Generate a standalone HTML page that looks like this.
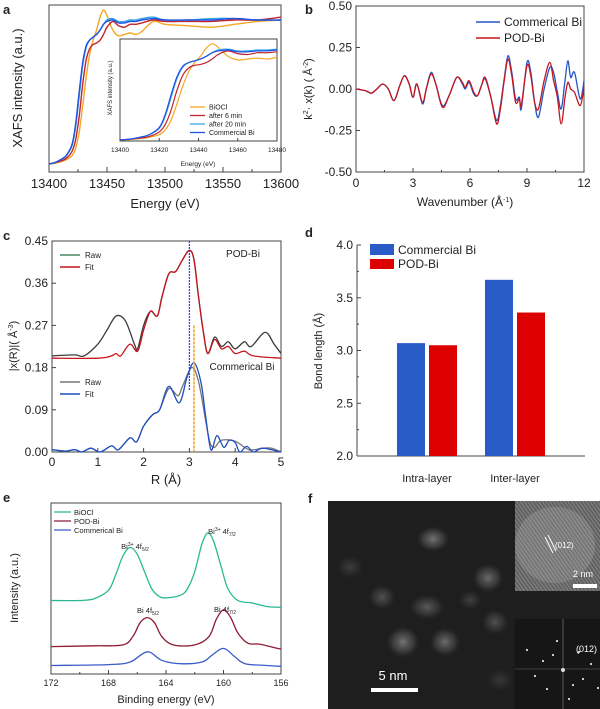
<!DOCTYPE html>
<html><head><meta charset="utf-8"><style>
body{margin:0;background:#fff;}
svg{display:block;font-family:"Liberation Sans",Arial,sans-serif;}
</style></head><body>
<svg id="fig" width="600" height="709" viewBox="0 0 600 709"></svg>
<script>
// ---------- Panel a data ----------
const aEnergy=[13400,13405,13410,13415,13420,13423,13426,13429,13432,13435,13438,13441,13444,13447,13450,13455,13460,13465,13470,13475,13480,13490,13500,13520,13540,13560,13580,13600];
const aCommercial=[0,0.01,0.03,0.06,0.14,0.28,0.50,0.70,0.82,0.86,0.88,0.90,0.93,0.97,0.99,1.00,0.98,0.98,0.99,0.99,1.00,1.01,1.00,1.00,1.00,1.01,1.00,1.00];
const a20min=[0,0.01,0.03,0.06,0.13,0.26,0.47,0.68,0.81,0.86,0.88,0.90,0.93,0.97,1.00,1.01,0.99,0.99,1.00,1.00,1.01,1.02,1.00,1.00,1.01,1.01,1.00,1.00];
const a6min=[0,0.01,0.02,0.04,0.09,0.17,0.33,0.55,0.72,0.80,0.83,0.84,0.86,0.90,0.95,0.99,0.96,0.95,0.97,0.97,0.98,1.00,0.99,0.99,0.99,1.00,1.00,1.02];
const aBiOCl=[0,0.005,0.015,0.03,0.06,0.11,0.22,0.40,0.60,0.76,0.86,0.93,1.02,1.07,1.03,0.93,0.89,0.90,0.91,0.90,0.92,0.99,0.97,0.96,0.95,0.97,0.99,1.00];
const aTicks=[13400,13450,13500,13550,13600];
const aInsetTicks=[13400,13420,13440,13460,13480];
// ---------- Panel b data ----------
const bK=[0,0.5,0.8,1.1,1.4,1.7,2.0,2.3,2.55,2.8,3.0,3.2,3.5,3.7,3.95,4.2,4.55,4.9,5.3,5.6,5.75,5.95,6.2,6.4,6.6,6.8,7.1,7.4,7.6,7.8,8.0,8.2,8.4,8.6,8.7,9.0,9.2,9.4,9.6,9.9,10.2,10.4,10.6,10.8,11.0,11.15,11.3,11.5,11.8,12];
const bPOD=[0,-0.01,-0.025,0,0.03,0,-0.07,0.02,0.08,0.03,-0.05,0.03,-0.08,0,0.09,0.03,-0.11,-0.04,0.07,0.04,0.01,0.05,-0.02,-0.04,0.02,0.07,-0.05,-0.21,-0.12,0.05,0.18,0.08,-0.08,-0.06,-0.1,0.14,0.08,-0.08,-0.12,0.05,0.16,0.05,-0.05,-0.21,-0.05,0.04,0.0,-0.02,-0.1,0.01];
const bCommercial=[0,-0.01,-0.025,0,0.03,0,-0.07,0.02,0.08,0.03,-0.05,0.03,-0.09,0,0.1,0.03,-0.1,-0.04,0.07,0.03,0.0,0.04,-0.03,-0.04,0.02,0.06,-0.05,-0.19,-0.1,0.06,0.2,0.1,-0.06,-0.05,-0.12,0.16,0.1,-0.08,-0.17,0.0,0.13,0.1,-0.02,-0.12,0.05,0.17,0.07,0.1,-0.06,0.05];
const bYTicks=[0.5,0.25,0,-0.25,-0.5];
const bYLabels=["0.50","0.25","0.00","-0.25","-0.50"];
const bXTicks=[0,3,6,9,12];
// ---------- Panel c data ----------
const cRpodRaw=[0,0.5,0.7,1.0,1.2,1.4,1.6,1.8,1.87,2.0,2.15,2.3,2.4,2.55,2.7,2.85,3.0,3.1,3.2,3.3,3.4,3.55,3.7,3.85,4.0,4.2,4.35,4.65,4.85,5];
const cPodRaw=[0.205,0.207,0.205,0.23,0.26,0.29,0.28,0.23,0.22,0.27,0.30,0.29,0.33,0.38,0.385,0.41,0.43,0.41,0.33,0.26,0.21,0.245,0.225,0.235,0.22,0.235,0.225,0.255,0.23,0.21];
const cRpodFit=[0,1.0,1.3,1.4,1.5,1.7,1.87,2.0,2.15,2.3,2.4,2.55,2.7,2.85,3.0,3.1,3.2,3.3,3.4,3.55,3.7,3.85,4.0,4.2,4.4,5];
const cPodFit=[0.2,0.2,0.205,0.21,0.205,0.23,0.215,0.26,0.30,0.29,0.33,0.38,0.385,0.41,0.43,0.41,0.33,0.26,0.21,0.24,0.22,0.225,0.21,0.215,0.205,0.2];
const cRcomRaw=[0,0.3,0.5,0.65,0.85,1.05,1.3,1.45,1.7,1.85,2.0,2.2,2.35,2.55,2.75,2.85,3.05,3.2,3.35,3.45,3.55,3.7,4.0,4.3,4.6,4.8,5];
const cComRaw=[0.005,0.002,0.005,0,0.008,0,0.013,0.005,0.03,0.022,0.055,0.08,0.09,0.135,0.12,0.14,0.18,0.15,0.07,0.02,0.01,0.025,0.023,0.005,0.008,0.008,0];
const cRcomFit=[0,0.3,0.5,0.65,0.85,1.05,1.3,1.45,1.7,1.85,2.0,2.2,2.35,2.55,2.78,2.95,3.1,3.25,3.35,3.47,3.6,3.75,3.87,4.0,4.1,4.25,4.4,4.6,5];
const cComFit=[0.005,0.002,0.005,0,0.008,0,0.013,0.005,0.03,0.022,0.055,0.08,0.09,0.14,0.105,0.16,0.19,0.15,0.08,0.005,0.035,0.01,0.025,0.02,0,0.012,0,0.008,0];
const cYTicks=[0.45,0.36,0.27,0.18,0.09,0];
const cYLabels=["0.45","0.36","0.27","0.18","0.09","0.00"];
const cXTicks=[0,1,2,3,4,5];
// ---------- Panel d data ----------
const dCategories=["Intra-layer","Inter-layer"];
const dCommercial=[3.07,3.67];
const dPOD=[3.05,3.36];
const dYTicks=[2.0,2.5,3.0,3.5,4.0];
const dYLabels=["2.0","2.5","3.0","3.5","4.0"];
// ---------- Panel e data ----------
const eBE_BiOCl=[172,170,169,168,167.5,167,166.5,166,165.5,165,164.5,164,163,162.5,162,161.5,161.1,160.7,160.2,159.7,159,158,157,156];
const eBiOCl=[4.3,4.3,4.4,4.9,5.8,6.9,7.4,7.0,6.0,5.0,4.55,4.45,4.6,5.0,6.0,7.6,8.25,7.8,6.4,5.0,4.3,4.15,3.95,3.9];
const eBE_POD=[172,169,167,166.3,165.8,165.3,164.8,164.3,163.5,162,161,160.5,160,159.5,159,158.3,157.5,156.5,156];
const ePOD=[1.6,1.65,1.7,2.2,3.0,3.3,3.0,2.2,1.7,1.7,2.2,3.2,3.75,3.3,2.4,1.8,1.75,1.55,1.45];
const eBE_Com=[172,168,166.5,165.3,164.3,163,161.5,160.8,160,159.2,158.5,157,156];
const eCom=[0.5,0.55,0.7,1.3,0.8,0.6,0.7,1.1,1.5,1.0,0.6,0.5,0.45];
const eXTicks=[172,168,164,160,156];

const NS="http://www.w3.org/2000/svg";
const svg=document.getElementById('fig');
function mk(tag,attrs,parent){const e=document.createElementNS(NS,tag);for(const k in attrs)e.setAttribute(k,attrs[k]);(parent||svg).appendChild(e);return e;}
function txt(s,x,y,size,anchor,parent,extra){const t=mk('text',Object.assign({x:x,y:y,'font-size':size,'text-anchor':anchor||'start',fill:'#222'},extra||{}),parent);t.textContent=s;return t;}
function lin(d0,d1,r0,r1){return v=>r0+(v-d0)*(r1-r0)/(d1-d0);}
function smooth(pts){let d='M'+pts[0][0].toFixed(1)+','+pts[0][1].toFixed(1);for(let i=0;i<pts.length-1;i++){const p0=pts[i-1]||pts[i],p1=pts[i],p2=pts[i+1],p3=pts[i+2]||p2;const c1=[p1[0]+(p2[0]-p0[0])/6,p1[1]+(p2[1]-p0[1])/6],c2=[p2[0]-(p3[0]-p1[0])/6,p2[1]-(p3[1]-p1[1])/6];d+='C'+c1[0].toFixed(1)+','+c1[1].toFixed(1)+' '+c2[0].toFixed(1)+','+c2[1].toFixed(1)+' '+p2[0].toFixed(1)+','+p2[1].toFixed(1);}return d;}
function series(xs,ys,sx,sy,color,w,parent,name,clip){const p=mk('path',{d:smooth(xs.map((x,i)=>[sx(x),sy(ys[i])])),fill:'none',stroke:color,'stroke-width':w,'stroke-linejoin':'round'},parent);


if(clip)p.setAttribute('clip-path',clip);return p;}
function grp(name){const g=mk('g',{});return g;}
function box(x0,y0,x1,y1,parent){mk('rect',{x:x0,y:y0,width:x1-x0,height:y1-y0,fill:'none',stroke:'#444','stroke-width':1},parent);}
const defs=mk('defs',{});
function clipRect(id,x,y,w,h){const c=mk('clipPath',{id:id},defs);mk('rect',{x:x,y:y,width:w,height:h},c);return 'url(#'+id+')';}

// ===== Panel a =====
(function(){
const g=grp('panel-a');
txt('a',3,14,13,'start',g,{'font-weight':'bold'});
const sx=lin(13400,13600,49,281), sy=lin(0,1,164,20);
box(49,5,281,172,g);
const clip=clipRect('ca',49,5,232,167);
aTicks.forEach(t=>{mk('line',{x1:sx(t),x2:sx(t),y1:172,y2:167,stroke:'#444'},g);txt(String(t),sx(t),188,13,'middle',g);});
for(let t=13425;t<13600;t+=50)mk('line',{x1:sx(t),x2:sx(t),y1:172,y2:169,stroke:'#444'},g);
txt('Energy (eV)',165,208,13,'middle',g);
txt('XAFS intensity (a.u.)',0,0,13,'middle',g,{transform:'translate(22,88) rotate(-90)'});
series(aEnergy,aBiOCl,sx,sy,'#f5a623',1.4,g,'a-biocl-line',clip);
series(aEnergy,a6min,sx,sy,'#c0242c',1.4,g,'a-6min-line',clip);
series(aEnergy,a20min,sx,sy,'#3aa8e8',1.4,g,'a-20min-line',clip);
series(aEnergy,aCommercial,sx,sy,'#2050e0',1.4,g,'a-commercial-line',clip);
const ig=mk('g',{},g);
mk('rect',{x:120,y:39,width:157,height:102,fill:'#fff'},ig);
box(120,39,277,141,ig);
const ix=lin(13400,13480,120,277), iy=lin(0,1,140,50);
const ic=clipRect('cai',120,39,157,102);
aInsetTicks.forEach(t=>{mk('line',{x1:ix(t),x2:ix(t),y1:141,y2:138,stroke:'#444'},ig);txt(String(t),ix(t),152,6.5,'middle',ig);});
txt('Energy (eV)',198,166,6.5,'middle',ig);
txt('XAFS intensity (a.u.)',0,0,6,'middle',ig,{transform:'translate(112,88) rotate(-90)'});
series(aEnergy,aBiOCl,ix,iy,'#f5a623',1.2,ig,'inset-biocl-line',ic);
series(aEnergy,a6min,ix,iy,'#c0242c',1.2,ig,'inset-6min-line',ic);
series(aEnergy,a20min,ix,iy,'#3aa8e8',1.2,ig,'inset-20min-line',ic);
series(aEnergy,aCommercial,ix,iy,'#2050e0',1.2,ig,'inset-commercial-line',ic);
const leg=[['BiOCl','#f5a623'],['after 6 min','#c0242c'],['after 20 min','#3aa8e8'],['Commercial Bi','#2050e0']];
leg.forEach((l,i)=>{const y=107+i*8.5;mk('line',{x1:190,x2:205,y1:y,y2:y,stroke:l[1],'stroke-width':1.3},ig);txt(l[0],209,y+2.5,7,'start',ig);});
})();

// ===== Panel b =====
(function(){
const g=grp('panel-b');
txt('b',305,14,13,'start',g,{'font-weight':'bold'});
const sx=lin(0,12,356,584), sy=lin(-0.5,0.5,172,6);
box(356,6,584,172,g);
bYTicks.forEach((t,i)=>{mk('line',{x1:356,x2:360,y1:sy(t),y2:sy(t),stroke:'#444'},g);txt(bYLabels[i],352,sy(t)+4,12,'end',g);});
bXTicks.forEach(t=>{mk('line',{x1:sx(t),x2:sx(t),y1:172,y2:168,stroke:'#444'},g);txt(String(t),sx(t),187,12,'middle',g);});
for(let t=1.5;t<12;t+=3)mk('line',{x1:sx(t),x2:sx(t),y1:172,y2:170,stroke:'#444'},g);
const xl=txt('Wavenumber (Å',465,206,12,'middle',g);
const ts=mk('tspan',{dy:-4,'font-size':7},xl);ts.textContent='-1';const ts2=mk('tspan',{dy:4},xl);ts2.textContent=')';
const yl=mk('text',{'font-size':11,'text-anchor':'middle',fill:'#222',transform:'translate(312,89) rotate(-90)'},g);
yl.textContent='k';const s1=mk('tspan',{dy:-4,'font-size':7},yl);s1.textContent='2';const s2=mk('tspan',{dy:4},yl);s2.textContent='· x(k) ( Å';const s3=mk('tspan',{dy:-4,'font-size':7},yl);s3.textContent='-2';const s4=mk('tspan',{dy:4},yl);s4.textContent=')';
series(bK,bCommercial,sx,sy,'#2555c8',1.3,g,'b-commercial-line');
series(bK,bPOD,sx,sy,'#c4161c',1.3,g,'b-pod-line');
[['Commerical Bi','#2555c8',22],['POD-Bi','#c4161c',38]].forEach(l=>{mk('line',{x1:476,x2:500,y1:l[2],y2:l[2],stroke:l[1],'stroke-width':1.5},g);txt(l[0],504,l[2]+4,12,'start',g);});
})();

// ===== Panel c =====
(function(){
const g=grp('panel-c');
txt('c',3,240,13,'start',g,{'font-weight':'bold'});
const sx=lin(0,5,52,281), sy=lin(0,0.45,452,241);
box(52,241,281,452,g);
cYTicks.forEach((t,i)=>{mk('line',{x1:52,x2:56,y1:sy(t),y2:sy(t),stroke:'#444'},g);txt(cYLabels[i],48,sy(t)+4,12,'end',g);});
cXTicks.forEach(t=>{mk('line',{x1:sx(t),x2:sx(t),y1:452,y2:448,stroke:'#444'},g);txt(String(t),sx(t),466,12,'middle',g);});
txt('R (Å)',166,484,13,'middle',g);
const yl=mk('text',{'font-size':11,'text-anchor':'middle',fill:'#222',transform:'translate(17,346) rotate(-90)'},g);
yl.textContent='|x(R)|( Å';const s=mk('tspan',{dy:-4,'font-size':7},yl);s.textContent='-3';const s2=mk('tspan',{dy:4},yl);s2.textContent=')';
series(cRpodRaw,cPodRaw,sx,sy,'#3c3c3c',1.3,g,'c-pod-raw-line');
series(cRpodFit,cPodFit,sx,sy,'#c4161c',1.3,g,'c-pod-fit-line');
series(cRcomRaw,cComRaw,sx,sy,'#777',1.3,g,'c-commercial-raw-line');
series(cRcomFit,cComFit,sx,sy,'#1f4fc0',1.3,g,'c-commercial-fit-line');
const v1=mk('line',{x1:sx(3.0),x2:sx(3.0),y1:sy(0.45),y2:sy(0.13),stroke:'#3344ee','stroke-width':1.3,'stroke-dasharray':'2,1'},g);
const v2=mk('line',{x1:sx(3.1),x2:sx(3.1),y1:sy(0.27),y2:sy(0),stroke:'#f0a020','stroke-width':1.5,'stroke-dasharray':'3,1'},g);
txt('POD-Bi',243,257,10,'middle',g);
txt('Commerical Bi',242,370,10,'middle',g);
[['Raw','#4a8a64',255],['Fit','#c4161c',267]].forEach(l=>{mk('line',{x1:60,x2:80,y1:l[2],y2:l[2],stroke:l[1],'stroke-width':1.5},g);txt(l[0],85,l[2]+3,8,'start',g);});
[['Raw','#777',382],['Fit','#1f4fc0',394]].forEach(l=>{mk('line',{x1:60,x2:80,y1:l[2],y2:l[2],stroke:l[1],'stroke-width':1.5},g);txt(l[0],85,l[2]+3,8,'start',g);});
})();

// ===== Panel d =====
(function(){
const g=grp('panel-d');
txt('d',305,237,13,'start',g,{'font-weight':'bold'});
const sy=lin(2,4,456,245);
const catX=[427,515], bw=28, gap=4;
mk('line',{x1:357,x2:357,y1:245,y2:456,stroke:'#444'},g);
mk('line',{x1:357,x2:585,y1:456,y2:456,stroke:'#444'},g);
dYTicks.forEach((t,i)=>{mk('line',{x1:357,x2:361,y1:sy(t),y2:sy(t),stroke:'#444'},g);txt(dYLabels[i],353,sy(t)+4,12,'end',g);});
for(let t=2.25;t<4;t+=0.5)mk('line',{x1:357,x2:359,y1:sy(t),y2:sy(t),stroke:'#444'},g);
txt('Bond length (Å)',0,0,11,'middle',g,{transform:'translate(322,351) rotate(-90)'});
dCategories.forEach((c,i)=>{
 const b1=mk('rect',{x:catX[i]-gap/2-bw,y:sy(dCommercial[i]),width:bw,height:sy(2)-sy(dCommercial[i]),fill:'#2a5cc8'},g);
 
 
 const b2=mk('rect',{x:catX[i]+gap/2,y:sy(dPOD[i]),width:bw,height:sy(2)-sy(dPOD[i]),fill:'#dd0000'},g);
 
 
 txt(c,catX[i],482,11,'middle',g);
});
mk('rect',{x:370,y:244,width:24,height:11,fill:'#2a5cc8'},g);txt('Commercial Bi',398,254,12,'start',g);
mk('rect',{x:370,y:259,width:24,height:10,fill:'#dd0000'},g);txt('POD-Bi',398,268,12,'start',g);
})();

// ===== Panel e =====
(function(){
const g=grp('panel-e');
txt('e',3,502,13,'start',g,{'font-weight':'bold'});
const sx=lin(172,156,51,281), sy=lin(0,10,674,503);
box(51,503,281,674,g);
eXTicks.forEach(t=>{mk('line',{x1:sx(t),x2:sx(t),y1:674,y2:670,stroke:'#444'},g);txt(String(t),sx(t),686,9,'middle',g);});
for(let t=170;t>156;t-=4)mk('line',{x1:sx(t),x2:sx(t),y1:674,y2:672,stroke:'#444'},g);
txt('Binding energy (eV)',166,703,11,'middle',g);
txt('Intensity (a.u.)',0,0,11,'middle',g,{transform:'translate(18,588) rotate(-90)'});
series(eBE_BiOCl,eBiOCl,sx,sy,'#2ab894',1.3,g,'e-biocl-line');
series(eBE_POD,ePOD,sx,sy,'#8c1c34',1.3,g,'e-pod-line');
series(eBE_Com,eCom,sx,sy,'#3a5cc8',1.3,g,'e-commercial-line');
[['BiOCl','#2ab894',512],['POD-Bi','#8c1c34',521],['Commerical Bi','#3a5cc8',530]].forEach(l=>{mk('line',{x1:54,x2:71,y1:l[2],y2:l[2],stroke:l[1],'stroke-width':1.3},g);txt(l[0],74,l[2]+3,7.5,'start',g);});
function lab(main,sup,sub,x,y){const t=txt(main,x,y,7.5,'middle',g);if(sup){const a=mk('tspan',{dy:-3,'font-size':5},t);a.textContent=sup;const b=mk('tspan',{dy:3},t);b.textContent=' 4f';}else{t.textContent=main+' 4f';}const c=mk('tspan',{dy:2,'font-size':5},t);c.textContent=sub;}
lab('Bi','3+','5/2',135,549);lab('Bi','3+','7/2',222,534);lab('Bi',null,'5/2',148,613);lab('Bi',null,'7/2',225,612);
})();

// ===== Panel f =====
(function(){
const g=grp('panel-f');
txt('f',308,503,13,'start',g,{'font-weight':'bold'});
const rg=mk('radialGradient',{id:'blob'},defs);
mk('stop',{offset:'0','stop-color':'#8a8a8a','stop-opacity':'0.8'},rg);mk('stop',{offset:'0.6','stop-color':'#5a5a5a','stop-opacity':'0.5'},rg);mk('stop',{offset:'1','stop-color':'#333','stop-opacity':'0'},rg);
const img=mk('rect',{x:328,y:501,width:272,height:208,fill:'#1e1e1e'},g);
const blobs=[[433,539,17,13,1],[488,578,16,15,0.9],[382,597,14,13,0.6],[427,607,18,13,0.7],[403,642,17,16,1],[445,642,16,15,0.9],[495,622,14,13,0.6],[350,567,14,12,0.35],[470,600,12,10,0.4],[500,680,14,12,0.3]];
blobs.forEach(b=>mk('ellipse',{cx:b[0],cy:b[1],rx:b[2],ry:b[3],fill:'url(#blob)',opacity:b[4]},g));
mk('rect',{x:515,y:501,width:85,height:90,fill:'#5e5e5e'},g);
mk('ellipse',{cx:555,cy:545,rx:40,ry:38,fill:'#8a8a8a',opacity:0.5},g);
const pat=mk('pattern',{id:'lat',width:3,height:3,patternUnits:'userSpaceOnUse',patternTransform:'rotate(-35)'},defs);
mk('rect',{width:1.3,height:3,fill:'#c0c0c0',opacity:0.35},pat);
mk('rect',{x:515,y:501,width:85,height:90,fill:'url(#lat)'},g);
mk('line',{x1:545,x2:553,y1:537,y2:553,stroke:'#fff','stroke-width':1},g);
mk('line',{x1:548,x2:556,y1:535,y2:551,stroke:'#fff','stroke-width':1},g);
txt('(012)',555,548,8,'start',g,{fill:'#fff'});
txt('2 nm',573,577,9,'start',g,{fill:'#fff'});
mk('rect',{x:573,y:584,width:24,height:4,fill:'#fff'},g);
mk('rect',{x:515,y:619,width:85,height:90,fill:'#161616'},g);
mk('line',{x1:563,x2:563,y1:619,y2:709,stroke:'#888','stroke-width':0.6},g);
mk('line',{x1:515,x2:600,y1:669,y2:669,stroke:'#666','stroke-width':0.5},g);
const spots=[[563,670],[553,655],[573,685],[543,661],[583,679],[557,641],[569,699],[535,676],[591,664],[547,689],[579,652],[527,650],[598,688]];
spots.forEach((s,i)=>mk('circle',{cx:s[0],cy:s[1],r:i==0?2:1.1,fill:'#ddd'},g));
txt('(012)',576,652,9,'start',g,{fill:'#fff'});
txt('5 nm',393,680,13,'middle',g,{fill:'#fff'});
const sb=mk('rect',{x:371,y:688,width:47,height:4,fill:'#fff'},g);
})();
</script>
</body></html>
